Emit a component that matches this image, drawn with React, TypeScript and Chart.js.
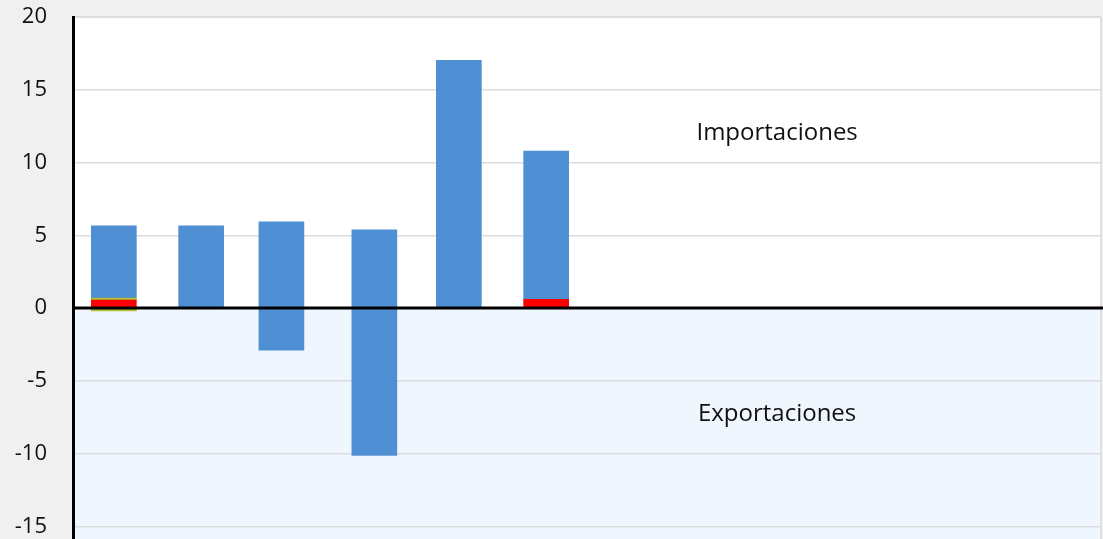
import { useEffect, useRef } from 'react';
import { Chart, registerables } from 'chart.js';

Chart.register(...registerables);

// x positions (day of year) of each monthly bar
const monthPositions = [14.5, 45.5, 74, 107, 137, 168];
// Imports (positive)
const importsRed = [0.55, null, null, null, null, 0.6];
const importsGreen = [0.14, null, null, null, null, null];
const importsBlue = [4.96, 5.65, 5.93, 5.38, 17.03, 10.18];
// Exports (negative)
const exportsBlue = [null, null, -2.9, -10.14, null, null];
const exportsGreen = [-0.2, null, null, null, null, null];

const yTicks = { min: -20, max: 20, step: 5 };
const importsLabel = 'Importaciones';
const exportsLabel = 'Exportaciones';
const labelPos = { x: 250, importsY: 12.03, exportsY: -7.29 };

const BLUE = '#4f8fd4';
const RED = '#ff0000';
const GREEN = '#b4bf2e';
const FONT = '"Open Sans"';

function pts(values: (number | null)[]) {
  return monthPositions.map((x, i) => ({ x, y: values[i] }));
}

const bgPlugin = {
  id: 'bgPlugin',
  beforeDraw(chart: any) {
    const { ctx, chartArea, scales } = chart;
    const zero = scales.y.getPixelForValue(0);
    ctx.save();
    ctx.fillStyle = '#ffffff';
    ctx.fillRect(chartArea.left, chartArea.top, chartArea.right - chartArea.left, zero - chartArea.top);
    ctx.fillStyle = '#eff6fd';
    ctx.fillRect(chartArea.left, zero, chartArea.right - chartArea.left, chartArea.bottom - zero);
    ctx.strokeStyle = '#d9d9d9';
    ctx.lineWidth = 1.5;
    ctx.beginPath();
    ctx.moveTo(chartArea.left, chartArea.top);
    ctx.lineTo(chartArea.right, chartArea.top);
    ctx.moveTo(chartArea.right, chartArea.top);
    ctx.lineTo(chartArea.right, chartArea.bottom);
    ctx.stroke();
    ctx.restore();
  },
  afterDatasetsDraw(chart: any) {
    const { ctx, chartArea, scales } = chart;
    const zero = scales.y.getPixelForValue(0);
    ctx.save();
    ctx.strokeStyle = '#000000';
    ctx.lineWidth = 3;
    ctx.beginPath();
    ctx.moveTo(chartArea.left, zero);
    ctx.lineTo(chart.width, zero);
    ctx.stroke();
    ctx.fillStyle = '#111111';
    ctx.font = '24px ' + FONT;
    ctx.textAlign = 'center';
    ctx.textBaseline = 'middle';
    const x = scales.x.getPixelForValue(labelPos.x);
    ctx.fillText(importsLabel, x, scales.y.getPixelForValue(labelPos.importsY));
    ctx.fillText(exportsLabel, x, scales.y.getPixelForValue(labelPos.exportsY));
    ctx.restore();
  },
};

export default function App() {
  const ref = useRef<HTMLCanvasElement>(null);
  useEffect(() => {
    document.body.style.margin = '0';
    document.body.style.background = '#f0f0f0';
    const common = { barThickness: 45, borderWidth: 0, borderSkipped: false };
    const chart = new Chart(ref.current as HTMLCanvasElement, {
      type: 'bar',
      data: {
        datasets: [
          { label: 'Imp. rojo', data: pts(importsRed), backgroundColor: RED, ...common },
          { label: 'Imp. verde', data: pts(importsGreen), backgroundColor: GREEN, ...common },
          { label: 'Imp. azul', data: pts(importsBlue), backgroundColor: BLUE, ...common },
          { label: 'Exp. azul', data: pts(exportsBlue), backgroundColor: BLUE, ...common },
          { label: 'Exp. verde', data: pts(exportsGreen), backgroundColor: GREEN, ...common },
        ] as any,
      },
      options: {
        animation: false,
        responsive: false,
        layout: { padding: { left: 0, top: 17, right: 2, bottom: 42 } },
        plugins: { legend: { display: false }, tooltip: { enabled: false } },
        scales: {
          x: { type: 'linear', min: 0, max: 365, stacked: true, offset: false, display: false },
          y: {
            stacked: true,
            min: yTicks.min,
            max: yTicks.max,
            afterFit: (s: any) => {
              s.width = 73;
              s.paddingTop = 0;
              s.paddingBottom = 0;
            },
            ticks: { stepSize: yTicks.step, color: '#111', padding: 26, font: { family: FONT, size: 22 } },
            grid: {
              drawTicks: false,
              color: (c: any) => (c.tick && c.tick.value === 0 ? 'rgba(0,0,0,0)' : '#dcdcdc'),
              lineWidth: 1.5,
            },
            border: { color: '#000', width: 3 },
          },
        },
      },
      plugins: [bgPlugin],
    });
    return () => chart.destroy();
  }, []);
  return <canvas ref={ref} width={1103} height={641} style={{ display: 'block' }} />;
}
